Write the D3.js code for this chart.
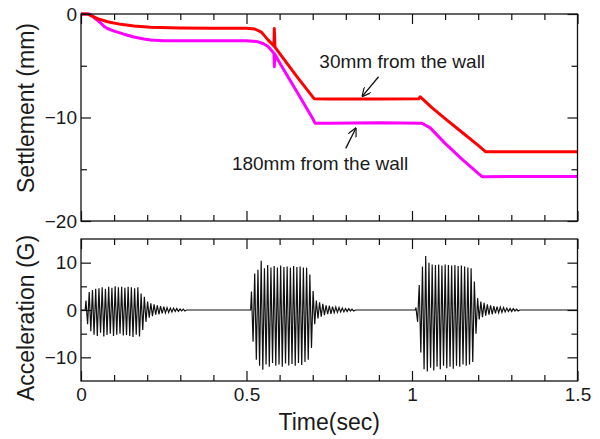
<!DOCTYPE html>
<meta charset="utf-8">
<script src="https://d3js.org/d3.v7.min.js"></script>
<style>
    body { margin: 0; background: #fff; }
    text { font-family: "Liberation Sans", Arial, sans-serif; fill: #1a1a1a; }
</style>
<div id="my_dataviz"></div>

<script>
    // settlement records (time in sec, settlement in mm)
    var redTime = [0, 0.02, 0.03, 0.05, 0.08, 0.12, 0.16, 0.21, 0.3, 0.4, 0.5, 0.525, 0.545, 0.565, 0.583, 0.584, 0.586, 0.6, 0.65, 0.7, 0.705, 0.75, 0.9, 1.02, 1.025, 1.035, 1.06, 1.1, 1.15, 1.2, 1.222, 1.3, 1.5];
    var redValue = [0, 0, -0.15, -0.45, -0.75, -1.0, -1.15, -1.28, -1.35, -1.38, -1.38, -1.45, -1.75, -2.5, -3.1, -1.4, -3.2, -3.8, -5.95, -8.0, -8.2, -8.22, -8.22, -8.2, -8.0, -8.3, -9.05, -10.1, -11.4, -12.7, -13.3, -13.3, -13.3];

    var magTime = [0, 0.025, 0.035, 0.045, 0.057, 0.07, 0.08, 0.1, 0.13, 0.16, 0.19, 0.21, 0.25, 0.5, 0.53, 0.55, 0.565, 0.583, 0.584, 0.586, 0.6, 0.65, 0.7, 0.707, 0.75, 0.9, 1.03, 1.055, 1.1, 1.15, 1.2, 1.212, 1.3, 1.5];
    var magValue = [0, 0, -0.2, -0.5, -0.8, -1.2, -1.4, -1.65, -1.95, -2.22, -2.42, -2.52, -2.58, -2.58, -2.65, -2.85, -3.15, -3.8, -5.1, -3.9, -4.7, -7.4, -10.1, -10.55, -10.55, -10.5, -10.55, -11.0, -12.5, -14.0, -15.4, -15.72, -15.7, -15.7];

    // acceleration bursts: start time, cycle period, then alternating peaks (+,-)
    var burstStart = [0.015, 0.515, 1.012];
    var cyclePeriod = 0.0098;
    var burst1Peaks = [2.0, -3.0, 3.8, -4.5, 4.2, -5.2, 4.5, -5.5, 4.6, -4.8, 4.8, -5.6, 4.5, -5.3, 4.9, -5.0, 4.7, -5.5, 5.0, -5.2,
        4.8, -5.0, 4.9, -5.4, 4.7, -5.3, 4.9, -5.5, 4.8, -5.7, 4.6, -5.2, 4.8, -5.6, 3.5, -4.2, 2.8, -2.5,
        1.8, -1.6, 1.4, -1.3, 1.2, -1.0, 1.0, -0.9, 0.8, -0.7, 0.7, -0.6, 0.5, -0.5, 0.4, -0.4, 0.4, -0.3, 0.3, -0.3, 0.2, -0.2, 0.2, -0.2];
    var burst2Peaks = [3.9, -6.7, 7.7, -10.5, 8.5, -11.8, 10.4, -12.6, 8.8, -11.5, 9.5, -12.0, 9.0, -11.2, 9.3, -11.8, 9.0, -11.5, 9.4, -12.0,
        9.1, -11.3, 9.2, -11.7, 9.0, -11.4, 9.3, -11.8, 9.1, -11.2, 9.2, -11.6, 9.0, -11.0, 8.9, -10.5, 7.5, -8.0, 4.0, -3.0,
        2.0, -1.8, 1.6, -1.4, 1.3, -1.1, 1.0, -0.9, 0.9, -0.8, 0.7, -0.6, 0.6, -0.5, 0.5, -0.4, 0.4, -0.4, 0.3, -0.3, 0.3, -0.2, 0.2, -0.2];
    var burst3Peaks = [0.5, -2.5, 5.3, -9.0, 9.2, -12.5, 11.4, -13.0, 10.0, -12.2, 9.6, -12.8, 9.5, -12.0, 9.6, -12.5, 9.4, -11.8, 9.6, -12.3,
        9.5, -12.0, 9.4, -12.4, 9.5, -11.8, 9.3, -12.0, 9.4, -11.5, 9.2, -11.8, 9.0, -11.5, 8.8, -11.0, 6.0, -5.0, 2.5, -2.0,
        1.8, -1.5, 1.5, -1.2, 1.2, -1.0, 1.0, -0.9, 0.8, -0.7, 0.7, -0.6, 0.6, -0.5, 0.5, -0.4, 0.4, -0.3, 0.3, -0.3, 0.3, -0.2, 0.2, -0.2];

    // tick values
    var xMajor = [0, 0.5, 1, 1.5];
    var xMinor = [0.1, 0.2, 0.3, 0.4, 0.6, 0.7, 0.8, 0.9, 1.1, 1.2, 1.3, 1.4];
    var settleMajor = [0, -10, -20];
    var settleMinor = [-5, -15];
    var accelMajor = [10, 0, -10];
    var accelMinor = [5, -5];

    // annotations: [text, text t, text v, arrow tail t, tail v, arrow head t, head v]
    var redLabel = ["30mm from the wall", 0.72, -5.2, 0.899, -6.06, 0.849, -7.99];
    var magLabel = ["180mm from the wall", 0.456, -15.1, 0.800, -12.98, 0.831, -10.99];

    var width = 600, height = 439;
    var left = 81, right = 577.5;
    var topY = [14, 221], botY = [239, 381];

    var svg = d3.select("#my_dataviz")
        .append("svg")
        .attr("width", width)
        .attr("height", height);

    var xScale = d3.scaleLinear().domain([0, 1.5]).range([left, right]);
    var ySettle = d3.scaleLinear().domain([-20, 0]).range([topY[1], topY[0]]);
    var yAccel = d3.scaleLinear().domain([-15, 15]).range([botY[1], botY[0]]);

    function drawTicks(yScale, yRange, yMaj, yMin, showX) {
        var g = svg.append("g");
        // inward ticks on all four sides: [axis, values, length, transform, labels, padding]
        var sides = [
            [d3.axisBottom(xScale), xMinor, 6, `translate(0,${yRange[1]})`, false, 7],
            [d3.axisBottom(xScale), xMajor, 10, `translate(0,${yRange[1]})`, showX, 7],
            [d3.axisTop(xScale), xMinor, 6, `translate(0,${yRange[0]})`, false, 4],
            [d3.axisTop(xScale), xMajor, 10, `translate(0,${yRange[0]})`, false, 4],
            [d3.axisLeft(yScale), yMin, 6, `translate(${left},0)`, false, 4],
            [d3.axisLeft(yScale), yMaj, 10, `translate(${left},0)`, true, 4],
            [d3.axisRight(yScale), yMin, 6, `translate(${right},0)`, false, 4],
            [d3.axisRight(yScale), yMaj, 10, `translate(${right},0)`, false, 4]
        ];
        sides.forEach(function (s) {
            var ax = s[0].tickValues(s[1]).tickSizeInner(-s[2]).tickSizeOuter(0)
                .tickPadding(s[5])
                .tickFormat(s[4] ? d3.format("") : "");
            var a = g.append("g").attr("transform", s[3]).call(ax);
            a.select(".domain").remove();
            a.selectAll("line").attr("stroke", "#111").attr("stroke-width", 1.2);
            a.selectAll("text").style("font-size", "19px").attr("fill", "#1a1a1a");
        });
    }

    // settlement lines
    var settleLine = d3.line()
        .x(function (d) { return xScale(d[0]) })
        .y(function (d) { return ySettle(d[1]) });

    svg.append("path")
        .datum(magTime.map(function (t, i) { return [t, magValue[i]] }))
        .attr("fill", "none")
        .attr("stroke", "#ff00ff")
        .attr("stroke-width", 3)
        .attr("stroke-linejoin", "round")
        .attr("d", settleLine);

    svg.append("path")
        .datum(redTime.map(function (t, i) { return [t, redValue[i]] }))
        .attr("fill", "none")
        .attr("stroke", "#ff0000")
        .attr("stroke-width", 3)
        .attr("stroke-linejoin", "round")
        .attr("d", settleLine);

    // acceleration trace
    var accelPts = [[0, 0]];
    [burst1Peaks, burst2Peaks, burst3Peaks].forEach(function (peaks, b) {
        accelPts.push([burstStart[b] - cyclePeriod / 4, 0]);
        peaks.forEach(function (p, i) {
            accelPts.push([burstStart[b] + i * cyclePeriod / 2, p]);
        });
        accelPts.push([burstStart[b] + peaks.length * cyclePeriod / 2, 0]);
    });
    accelPts.push([1.5, 0]);

    svg.append("path")
        .datum(accelPts)
        .attr("fill", "none")
        .attr("stroke", "#111")
        .attr("stroke-width", 1.2)
        .attr("d", d3.line()
            .x(function (d) { return xScale(d[0]) })
            .y(function (d) { return yAccel(d[1]) })
        );

    // frames
    [topY, botY].forEach(function (r) {
        svg.append("rect")
            .attr("x", left)
            .attr("y", r[0])
            .attr("width", right - left)
            .attr("height", r[1] - r[0])
            .attr("fill", "none")
            .attr("stroke", "#111")
            .attr("stroke-width", 1.3);
    });

    drawTicks(ySettle, topY, settleMajor, settleMinor, false);
    drawTicks(yAccel, botY, accelMajor, accelMinor, true);

    // annotations
    svg.append("defs").append("marker")
        .attr("id", "arrow")
        .attr("viewBox", "0 0 10 10")
        .attr("refX", 10).attr("refY", 5)
        .attr("markerWidth", 9).attr("markerHeight", 9)
        .attr("markerUnits", "userSpaceOnUse")
        .attr("orient", "auto")
        .append("path")
        .attr("d", "M0,0 L10,5 L0,10")
        .attr("fill", "none")
        .attr("stroke", "#111")
        .attr("stroke-width", 1.3);

    [redLabel, magLabel].forEach(function (a) {
        svg.append("text")
            .attr("x", xScale(a[1]))
            .attr("y", ySettle(a[2]))
            .style("font-size", "19px")
            .text(a[0]);
        svg.append("line")
            .attr("x1", xScale(a[3])).attr("y1", ySettle(a[4]))
            .attr("x2", xScale(a[5])).attr("y2", ySettle(a[6]))
            .attr("stroke", "#111")
            .attr("stroke-width", 1.3)
            .attr("marker-end", "url(#arrow)");
    });

    // axis titles
    svg.append("text")
        .attr("text-anchor", "middle")
        .attr("x", (left + right) / 2)
        .attr("y", 430)
        .style("font-size", "23px")
        .text("Time(sec)");

    svg.append("text")
        .attr("text-anchor", "middle")
        .attr("transform", "translate(34,108) rotate(-90)")
        .style("font-size", "23px")
        .text("Settlement (mm)");

    svg.append("text")
        .attr("text-anchor", "middle")
        .attr("transform", "translate(34,318) rotate(-90)")
        .style("font-size", "23px")
        .text("Acceleration (G)");
</script>
